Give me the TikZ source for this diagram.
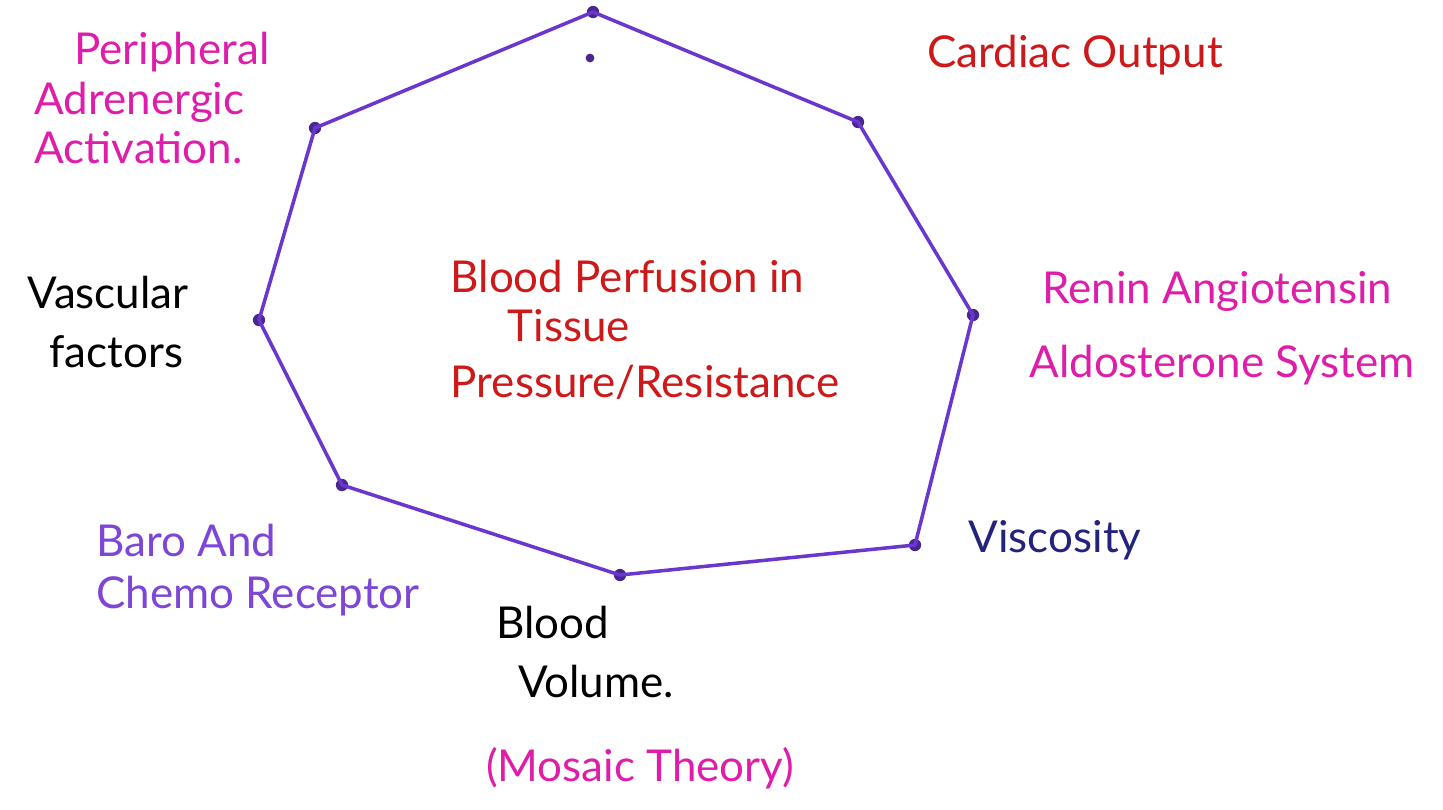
\documentclass[tikz,border=0pt]{standalone}
\usepackage{fontspec}
\setmainfont{Lato}
\usepackage{xcolor}
\usepackage{tikz}
\usetikzlibrary{positioning}

\definecolor{inkred}{RGB}{205,25,25}
\definecolor{inkpink}{RGB}{222,30,170}
\definecolor{inkpurple}{RGB}{105,55,205}
\definecolor{inknavy}{RGB}{35,35,125}
\definecolor{inkviolet}{RGB}{125,70,215}

\begin{document}
\begin{tikzpicture}[x=0.02cm,y=-0.02cm,
  every node/.style={font=\fontsize{25}{30}\selectfont},
  edge/.style={draw=inkpurple,line width=2pt,line join=round},
  corner/.style={circle,fill=inkpurple!70!black,inner sep=0pt,minimum size=7pt},
  label/.style={align=left}]

\useasboundingbox[fill=white] (0,0) rectangle (1443,809);

% corners of the ring
\node[corner] (V_top) at (593,12) {};
\node[corner] (V_ur)  at (858,122) {};
\node[corner] (V_r)   at (973,315) {};
\node[corner] (V_lr)  at (915,545) {};
\node[corner] (V_bot) at (620,575) {};
\node[corner] (V_ll)  at (342,485) {};
\node[corner] (V_l)   at (259,320) {};
\node[corner] (V_ul)  at (315,128) {};
\node[corner,minimum size=5pt] (dot) at (590,58) {};

\path[edge] (V_top.center) -- (V_ur.center) -- (V_r.center) -- (V_lr.center)
  -- (V_bot.center) -- (V_ll.center) -- (V_l.center) -- (V_ul.center) -- cycle;

% centre
\node[label,text=inkred] (centre) at (645,330)
  {Blood Perfusion in\\[-2pt]\hspace*{1.3em}Tissue\\[2pt]Pressure/Resistance};

% factors round the ring
\node[label,text=inkpink] (adren) at (152,98)
  {\hspace*{0.9em}Peripheral\\[-2pt]Adrenergic\\[-2pt]Activation.};
\node[text=inkred] (cardiac) at (1075,55) {Cardiac Output};
\node[label,text=inkpink] (raas) at (1222,328)
  {\hspace*{0.3em}Renin Angiotensin\\[12pt]Aldosterone System};
\node[text=inknavy] (visc) at (1055,540) {Viscosity};
\node[label,text=black] (volume) at (585,652) {Blood\\[4pt]\hspace*{0.5em}Volume.};
\node[text=inkpink] (mosaic) at (640,768) {(Mosaic Theory)};
\node[label,text=inkviolet] (baro) at (258,570) {Baro And\\Chemo Receptor};
\node[label,text=black] (vasc) at (108,322) {Vascular\\[4pt]\hspace*{0.5em}factors};

\end{tikzpicture}
\end{document}
